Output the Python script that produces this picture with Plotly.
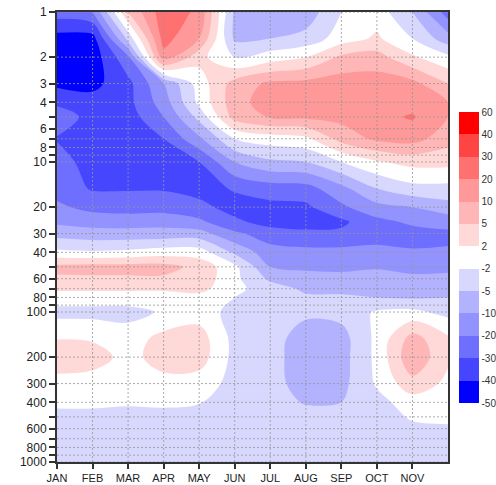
import numpy as np
import plotly.graph_objects as go

months = ["JAN", "FEB", "MAR", "APR", "MAY", "JUN", "JUL", "AUG", "SEP", "OCT", "NOV", "DEC"]
month_pos = list(range(12))
pressure = [1, 1.5, 2, 3, 4, 5, 7, 10, 15, 20, 25, 30, 40, 50, 60, 70, 80,
            100, 150, 200, 300, 400, 500, 700, 1000]

# anomaly rows: one row per pressure level, columns JAN..DEC
anomaly = [
    [-25, -20, 5, 26, 18, -6, -7, -8, -2, 0, -5, -25],           # 1
    [-44, -44, -4, 24, 10, -6, -5, -4, 0, 2.5, -2, -8],          # 1.5
    [-45, -46, -22, 16, 3, -2, 0, 2, 6, 7, 2.5, -1],             # 2
    [-42, -43, -33, -10, 0, 7, 12, 13, 15, 15, 13, 5],           # 3
    [-33, -36, -33, -15, -1, 8, 15, 15, 16, 16, 16, 10],         # 4
    [-22, -35, -35, -20, -4, 7, 11, 12, 13, 17, 21, 10],         # 5
    [-31, -35, -36, -30, -12, -2, 0, 1, 7, 12, 14, 7],           # 7
    [-24, -36, -36, -35, -30, -10, -6, -5, -2, 1.5, 3, 3],       # 10
    [-24, -31, -31, -31, -34, -29, -25, -24, -13, -5, -3, -3],   # 15
    [-18, -23, -24, -24, -27, -34, -33, -32, -22, -13, -10, -7], # 20
    [-12, -14, -15, -14, -18, -28, -34, -34, -32, -23, -18, -16],# 25
    [-7, -8, -8, -8, -8, -18, -25, -28, -28, -26, -24, -22],     # 30
    [-1, -1.5, -1, 0, 0, -6, -16, -17, -17, -16, -19, -19],      # 40
    [6.5, 7, 7, 7, 4, -1, -10, -12, -13, -11, -13, -12],         # 50
    [4.5, 4.5, 4.5, 4.5, 4, -1, -6, -8, -8, -8, -9, -9],         # 60
    [2.5, 2.5, 2.5, 2.5, 3, -1, -3.5, -6, -6.5, -6.5, -7, -7],   # 70
    [0, 0, 0, 0, 0.5, -2, -2.5, -4.5, -4.5, -5, -5.5, -5],       # 80
    [-3, -3, -3, -1.5, 0, -3, -3.5, -4.5, -4, -1.5, -1, -3],     # 100
    [1.8, 1.5, 0, 3, 3.5, -3, -4, -7, -7, -1, 7, 2.5],           # 150
    [4.5, 3.5, 0.5, 3.5, 3.5, -3, -4, -7.5, -7, -1, 9, 2.5],     # 200
    [0, 0, 0.5, 0.5, 0, -3, -4, -7, -6.5, -1.5, 4, 1],           # 300
    [-1, -1, -1.5, -1.2, -1.8, -3.5, -3.5, -5.5, -5, -3, 0, 0],  # 400
    [-3, -3, -3, -3, -3, -3.5, -3.5, -3.5, -3.5, -3.5, -1.5, -1],# 500
    [-3.5, -3.5, -3.5, -3.5, -3.5, -3.5, -3.5, -3.5, -3.5, -3.5, -3.5, -3.5],  # 700
    [-3.5, -3.5, -3.5, -3.5, -3.5, -3.5, -3.5, -3.5, -3.5, -3.5, -3.5, -3.5],  # 1000
]

levels = [-50, -40, -30, -20, -10, -5, -2, 2, 5, 10, 20, 30, 40, 60]
level_colors = ["#0000ff", "#4646ff", "#6e6eff", "#9393ff", "#b2b2ff", "#d8d8ff",
                "#ffffff", "#ffd8d8", "#ffb6b6", "#ff9898", "#ff7070", "#ff4444", "#ff0000"]

ytick_vals = [1, 2, 3, 4, 5, 6, 7, 8, 9, 10, 20, 30, 40, 50, 60, 70, 80, 90,
              100, 200, 300, 400, 500, 600, 700, 800, 900, 1000]
ytick_text = ["1", "2", "3", "4", "", "6", "", "8", "", "10", "20", "30", "40", "", "60", "", "80", "",
              "100", "200", "300", "400", "", "600", "", "800", "", "1000"]

# map values onto evenly spaced level indices (the colour bar is evenly spaced)
z = np.array(anomaly, dtype=float)
level_idx = np.arange(len(levels))
z_idx = np.interp(z, levels, level_idx)

n_bands = len(level_colors)
fill_scale = [[k / (n_bands - 1), c] for k, c in enumerate(level_colors)]
# stepped scale for the colour bar: one block per band
bar_scale = []
for k, c in enumerate(level_colors):
    bar_scale.append([k / n_bands, c])
    bar_scale.append([(k + 1) / n_bands, c])

fig = go.Figure()
fig.add_trace(go.Contour(
    x=month_pos, y=pressure, z=z_idx,
    contours=dict(start=1, end=len(levels) - 2, size=1, coloring="fill"),
    colorscale=fill_scale, showscale=False,
    line=dict(width=0, smoothing=1.0),
    hoverinfo="skip",
))

# dotted grid drawn above the filled contours
gx, gy = [], []
for v in ytick_vals:
    gx += [month_pos[0], month_pos[-1], None]
    gy += [v, v, None]
for m in month_pos[1:-1]:
    gx += [m, m, None]
    gy += [pressure[0], pressure[-1], None]
fig.add_trace(go.Scatter(x=gx, y=gy, mode="lines",
                         line=dict(color="rgba(150,150,150,0.8)", width=1, dash="2px,2px"),
                         hoverinfo="skip", showlegend=False))

# colour bar carrier (invisible marker)
fig.add_trace(go.Scatter(
    x=[month_pos[0]], y=[pressure[-1]], mode="markers",
    marker=dict(size=0.1, opacity=0, color=[0], cmin=level_idx[0], cmax=level_idx[-1],
                colorscale=bar_scale, showscale=True,
                colorbar=dict(
                    tickmode="array", tickvals=list(level_idx),
                    ticktext=[str(v) for v in levels],
                    thickness=20, thicknessmode="pixels",
                    len=291, lenmode="pixels",
                    x=1.028, xanchor="left", y=0.4544, yanchor="middle",
                    xpad=0, ypad=0, outlinewidth=0, ticks="",
                    tickfont=dict(size=10, color="#333333", family="Liberation Sans, Arial"),
                )),
    hoverinfo="skip", showlegend=False,
))

fig.update_layout(
    width=496, height=485,
    margin=dict(l=57, r=48, t=12, b=23, autoexpand=False),
    paper_bgcolor="white", plot_bgcolor="white",
    font=dict(family="Liberation Sans, Arial", color="#222222"),
    showlegend=False,
)
fig.update_xaxes(
    range=[month_pos[0], month_pos[-1]],
    tickmode="array", tickvals=month_pos[:-1], ticktext=months[:-1],
    ticks="outside", ticklen=5, tickcolor="#333333", tickwidth=1.5,
    tickfont=dict(size=11),
    showline=True, linecolor="#333333", linewidth=2, mirror=True,
    showgrid=False, zeroline=False,
)
fig.update_yaxes(
    type="log", range=[np.log10(1000), np.log10(1)],
    tickmode="array", tickvals=ytick_vals, ticktext=ytick_text,
    ticks="outside", ticklen=6, tickcolor="#333333", tickwidth=1.5,
    tickfont=dict(size=12),
    showline=True, linecolor="#333333", linewidth=2, mirror=True,
    showgrid=False, zeroline=False,
)

fig.write_html("out.html")
